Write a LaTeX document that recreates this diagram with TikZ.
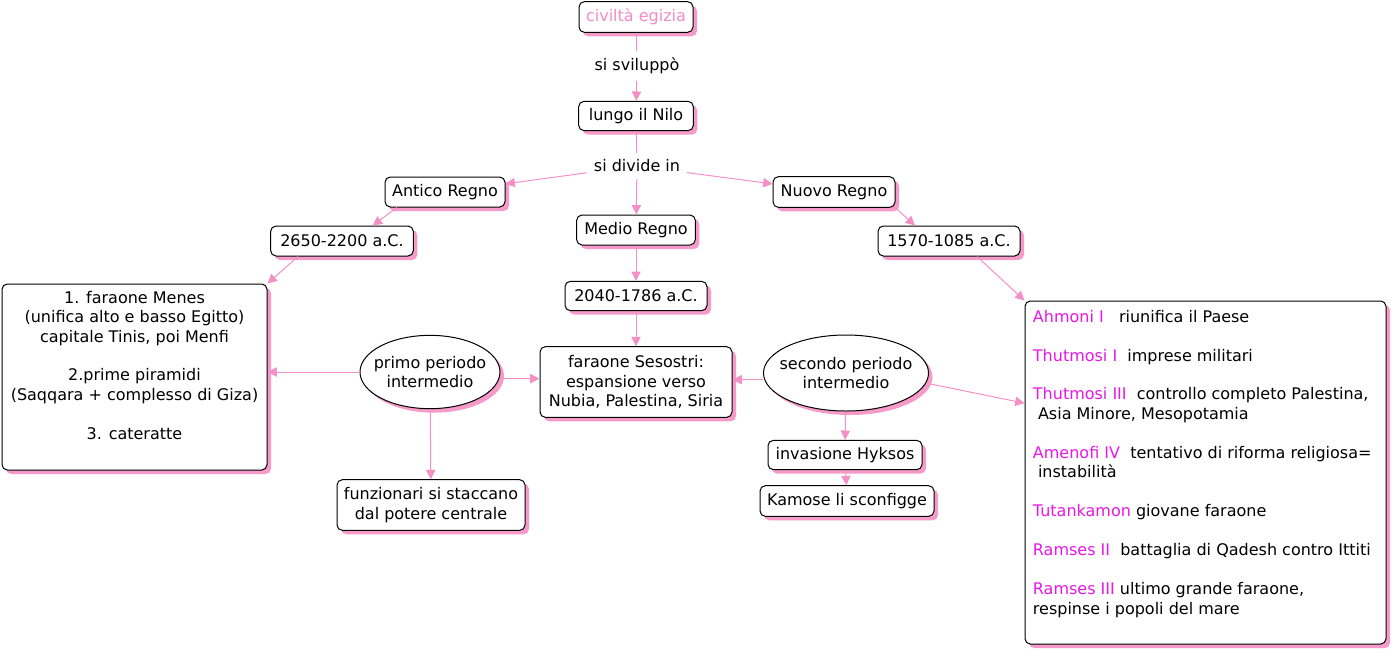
\documentclass[tikz,border=0pt]{standalone}
\usepackage{fontspec}
\setmainfont{DejaVu Sans}
\usetikzlibrary{arrows.meta,shapes.geometric,shadows}
\definecolor{cpink}{HTML}{F490C6}
\definecolor{cshade}{HTML}{F59AC9}
\definecolor{cmag}{HTML}{E619E6}
\definecolor{ctitle}{HTML}{F08CC6}

\begin{document}
\begin{tikzpicture}[x=0.75pt,y=-0.75pt,
  font=\fontsize{12}{14.6}\selectfont,
  concept/.style={draw,rounded corners=4pt,fill=white,inner sep=2pt,line width=0.75pt,
    drop shadow={shadow xshift=3pt,shadow yshift=-3pt,fill=cshade,opacity=1}},
  oval/.style={concept,ellipse,align=center,inner xsep=-6pt,inner ysep=0pt},
  linklabel/.style={fill=white,inner sep=5pt},
  link/.style={cpink,line width=0.75pt},
  linkarrow/.style={link,-{Triangle[length=7pt,width=7pt]}}]
  \useasboundingbox (0,0) rectangle (1392,651);

  % concepts
  \node[concept,minimum width=85.5pt,minimum height=23pt,text=ctitle] (civ) at (636,17) {civiltà egizia};
  \node[linklabel] (sv) at (637,66) {si sviluppò};
  \node[concept,minimum width=86pt,minimum height=22pt] (nilo) at (636,116) {lungo il Nilo};
  \node[linklabel] (dv) at (637,166) {si divide in};
  \node[concept,minimum width=90pt,minimum height=22.5pt] (ant) at (445,192) {Antico Regno};
  \node[concept,minimum width=89pt,minimum height=22.5pt] (med) at (636,230) {Medio Regno};
  \node[concept,minimum width=91.5pt,minimum height=23pt] (nuo) at (834,192) {Nuovo Regno};
  \node[concept,minimum width=107pt,minimum height=22.5pt] (d1) at (342,241) {2650-2200 a.C.};
  \node[concept,minimum width=106.5pt,minimum height=22pt] (d2) at (636,296) {2040-1786 a.C.};
  \node[concept,minimum width=106.5pt,minimum height=22.5pt] (d3) at (949,241) {1570-1085 a.C.};

  \node[concept,minimum width=198.75pt,minimum height=139.5pt] (lb) at (134.5,377) {};
  \node[anchor=north,align=center,inner sep=2pt] (lbt) at (134.5,288)
    {1. faraone Menes\\ (unifica alto e basso Egitto)\\capitale Tinis, poi Menfi\\[14.6pt]
     2.prime piramidi\\(Saqqara + complesso di Giza)\\[14.6pt]3. cateratte};

  \node[oval,minimum width=105pt,minimum height=55pt] (pr) at (430,372) {primo periodo\\ intermedio};
  \node[concept,minimum width=144pt,minimum height=53pt,align=center] (ses) at (636,382)
    {faraone Sesostri:\\espansione verso\\Nubia, Palestina, Siria};
  \node[oval,minimum width=121.5pt,minimum height=57pt] (sec) at (846,373) {secondo periodo\\intermedio};
  \node[concept,minimum width=141pt,minimum height=38pt,align=center] (fz) at (431,505)
    {funzionari si staccano\\dal potere centrale};
  \node[concept,minimum width=115.5pt,minimum height=22pt] (hyk) at (845,455) {invasione Hyksos};
  \node[concept,minimum width=130.5pt,minimum height=23pt] (kam) at (847,501) {Kamose li sconfigge};

  \node[concept,minimum width=270.75pt,minimum height=257.25pt] (rb) at (1205.5,472.5) {};
  \node[anchor=north west,align=left,inner sep=2pt] (rbt) at (1030,307)
    {\textcolor{cmag}{Ahmoni I}\ \ \ riunifica il Paese\\[14.6pt]
     \textcolor{cmag}{Thutmosi I}\ \ imprese militari\\[14.6pt]
     \textcolor{cmag}{Thutmosi III}\ \ controllo completo Palestina,\\\ Asia Minore, Mesopotamia\\[14.6pt]
     \textcolor{cmag}{Amenofi IV}\ \ tentativo di riforma religiosa=\\\ instabilità\\[14.6pt]
     \textcolor{cmag}{Tutankamon} giovane faraone\\[14.6pt]
     \textcolor{cmag}{Ramses II}\ \ battaglia di Qadesh contro Ittiti\\[14.6pt]
     \textcolor{cmag}{Ramses III} ultimo grande faraone,\\respinse i popoli del mare};

  % links
  \draw[link] (civ) -- (sv);
  \draw[linkarrow] (sv) -- (nilo);
  \draw[link] (nilo) -- (dv);
  \draw[linkarrow] (dv) -- (ant);
  \draw[linkarrow] (dv) -- (med);
  \draw[linkarrow] (dv) -- (nuo);
  \draw[linkarrow] ([xshift=-36pt]ant.south) -- ([xshift=23pt]d1.north);
  \draw[linkarrow] ([xshift=-33pt]d1.south) -- (lb.north east);
  \draw[linkarrow] (med) -- (d2);
  \draw[linkarrow] (d2) -- (ses);
  \draw[linkarrow] (nuo.south east) -- ([xshift=-25.5pt]d3.north);
  \draw[linkarrow] ([xshift=21pt]d3.south) -- (rb.north west);
  \draw[linkarrow] (pr.west) -- (pr.west -| lb.east);
  \draw[linkarrow] ([yshift=-5pt]pr.east) -- ([yshift=-5pt]pr.east -| ses.west);
  \draw[linkarrow] (pr) -- (fz);
  \draw[linkarrow] ([yshift=-5pt]sec.west) -- ([yshift=-5pt]sec.west -| ses.east);
  \draw[linkarrow] ([yshift=-8pt]sec.east) -- ([yshift=52pt]rb.west);
  \draw[linkarrow] (sec) -- (hyk);
  \draw[linkarrow] (hyk) -- (kam);
\end{tikzpicture}
\end{document}
